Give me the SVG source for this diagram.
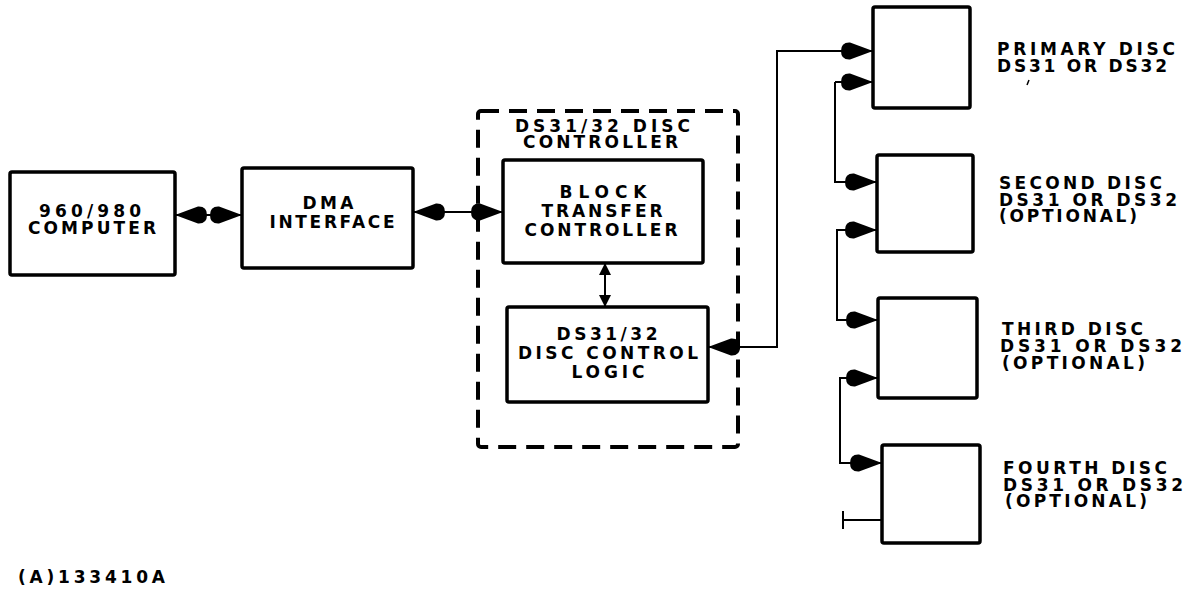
<svg xmlns="http://www.w3.org/2000/svg" width="1193" height="590" viewBox="0 0 1193 590">
<style>
.box{fill:#fff;stroke:#000;stroke-width:3.5;stroke-linejoin:round}
.dash{fill:none;stroke:#000;stroke-width:4;stroke-dasharray:18 10;stroke-linejoin:round}
.con{fill:none;stroke:#000;stroke-width:2}
text{font-family:"DejaVu Sans","Liberation Sans",Arial,sans-serif;font-weight:bold;font-size:17px;fill:#000}
.c{text-anchor:middle}
</style>
<defs>
<marker id="ah" viewBox="0 0 32 18" refX="32" refY="9" markerWidth="32" markerHeight="18" markerUnits="userSpaceOnUse" orient="auto-start-reverse">
<path d="M32,9 L9,0.5 Q0,0 0,9 Q0,18 9,17.5 Z" fill="#000"/>
</marker>
<marker id="sh" viewBox="0 0 12 12" refX="12" refY="6" markerWidth="12" markerHeight="12" markerUnits="userSpaceOnUse" orient="auto-start-reverse">
<path d="M12,6 L0,0 L0,12 Z" fill="#000"/>
</marker>
</defs>
<rect width="1193" height="590" fill="#fff"/>
<g id="connectors">
<path class="con" d="M175,215 H242" marker-start="url(#ah)" marker-end="url(#ah)"/>
<path class="con" d="M413,212 H503" marker-start="url(#ah)" marker-end="url(#ah)"/>
<path class="con" stroke-width="2.5" d="M605,263 V307" marker-start="url(#sh)" marker-end="url(#sh)"/>
<path class="con" d="M708,347 H777 V51 H873" marker-start="url(#ah)" marker-end="url(#ah)"/>
<path class="con" d="M835,82 V182 H877" marker-end="url(#ah)"/>
<path class="con" d="M873,82 H835" marker-start="url(#ah)"/>
<path class="con" d="M877,230 H837 V320 H878" marker-start="url(#ah)" marker-end="url(#ah)"/>
<path class="con" d="M878,378 H840 V463 H882" marker-start="url(#ah)" marker-end="url(#ah)"/>
<path class="con" d="M882,520 H843 M843,511 V529"/>
</g>
<g id="computer">
<rect class="box" x="10" y="172" width="165" height="103" rx="2"/>
<text class="c" x="90" y="217" textLength="102" lengthAdjust="spacing">960/980</text>
<text class="c" x="92" y="234" textLength="128" lengthAdjust="spacing">COMPUTER</text>
</g>
<g id="dma">
<rect class="box" x="242" y="168" width="171" height="100" rx="2"/>
<text class="c" x="328" y="209" textLength="51" lengthAdjust="spacing">DMA</text>
<text class="c" x="332" y="228" textLength="125" lengthAdjust="spacing">INTERFACE</text>
</g>
<g id="disc-controller">
<rect class="dash" x="478" y="111" width="260" height="336" rx="3"/>
<text x="515" y="132" textLength="175" lengthAdjust="spacing">DS31/32 DISC</text>
<text x="523" y="148" textLength="155" lengthAdjust="spacing">CONTROLLER</text>
</g>
<g id="block-transfer">
<rect class="box" x="503" y="160" width="200" height="103" rx="2"/>
<text class="c" x="603" y="198" textLength="87" lengthAdjust="spacing">BLOCK</text>
<text class="c" x="602" y="217" textLength="121" lengthAdjust="spacing">TRANSFER</text>
<text class="c" x="601" y="236" textLength="153" lengthAdjust="spacing">CONTROLLER</text>
</g>
<g id="disc-control-logic">
<rect class="box" x="507" y="307" width="201" height="95" rx="2"/>
<text class="c" x="607" y="340" textLength="101" lengthAdjust="spacing">DS31/32</text>
<text class="c" x="608" y="359" textLength="180" lengthAdjust="spacing">DISC CONTROL</text>
<text class="c" x="608" y="378" textLength="73" lengthAdjust="spacing">LOGIC</text>
</g>
<g id="primary-disc">
<rect class="box" x="873" y="7" width="97" height="101" rx="2"/>
<text x="997" y="55" textLength="178" lengthAdjust="spacing">PRIMARY DISC</text>
<text x="997" y="72" textLength="170" lengthAdjust="spacing">DS31 OR DS32</text>
<path d="M1029,80 L1027,85" stroke="#000" stroke-width="1.5"/>
</g>
<g id="second-disc">
<rect class="box" x="877" y="155" width="96" height="97" rx="2"/>
<text x="999" y="189" textLength="163" lengthAdjust="spacing">SECOND DISC</text>
<text x="999" y="206" textLength="178" lengthAdjust="spacing">DS31 OR DS32</text>
<text x="999" y="222" textLength="138" lengthAdjust="spacing">(OPTIONAL)</text>
</g>
<g id="third-disc">
<rect class="box" x="878" y="298" width="99" height="100" rx="2"/>
<text x="1002" y="335" textLength="141" lengthAdjust="spacing">THIRD DISC</text>
<text x="1000" y="352" textLength="182" lengthAdjust="spacing">DS31 OR DS32</text>
<text x="1002" y="369" textLength="143" lengthAdjust="spacing">(OPTIONAL)</text>
</g>
<g id="fourth-disc">
<rect class="box" x="882" y="445" width="98" height="98" rx="2"/>
<text x="1003" y="474" textLength="164" lengthAdjust="spacing">FOURTH DISC</text>
<text x="1003" y="491" textLength="180" lengthAdjust="spacing">DS31 OR DS32</text>
<text x="1005" y="507" textLength="142" lengthAdjust="spacing">(OPTIONAL)</text>
</g>
<text x="18" y="583" textLength="147" lengthAdjust="spacing">(A)133410A</text>
</svg>
